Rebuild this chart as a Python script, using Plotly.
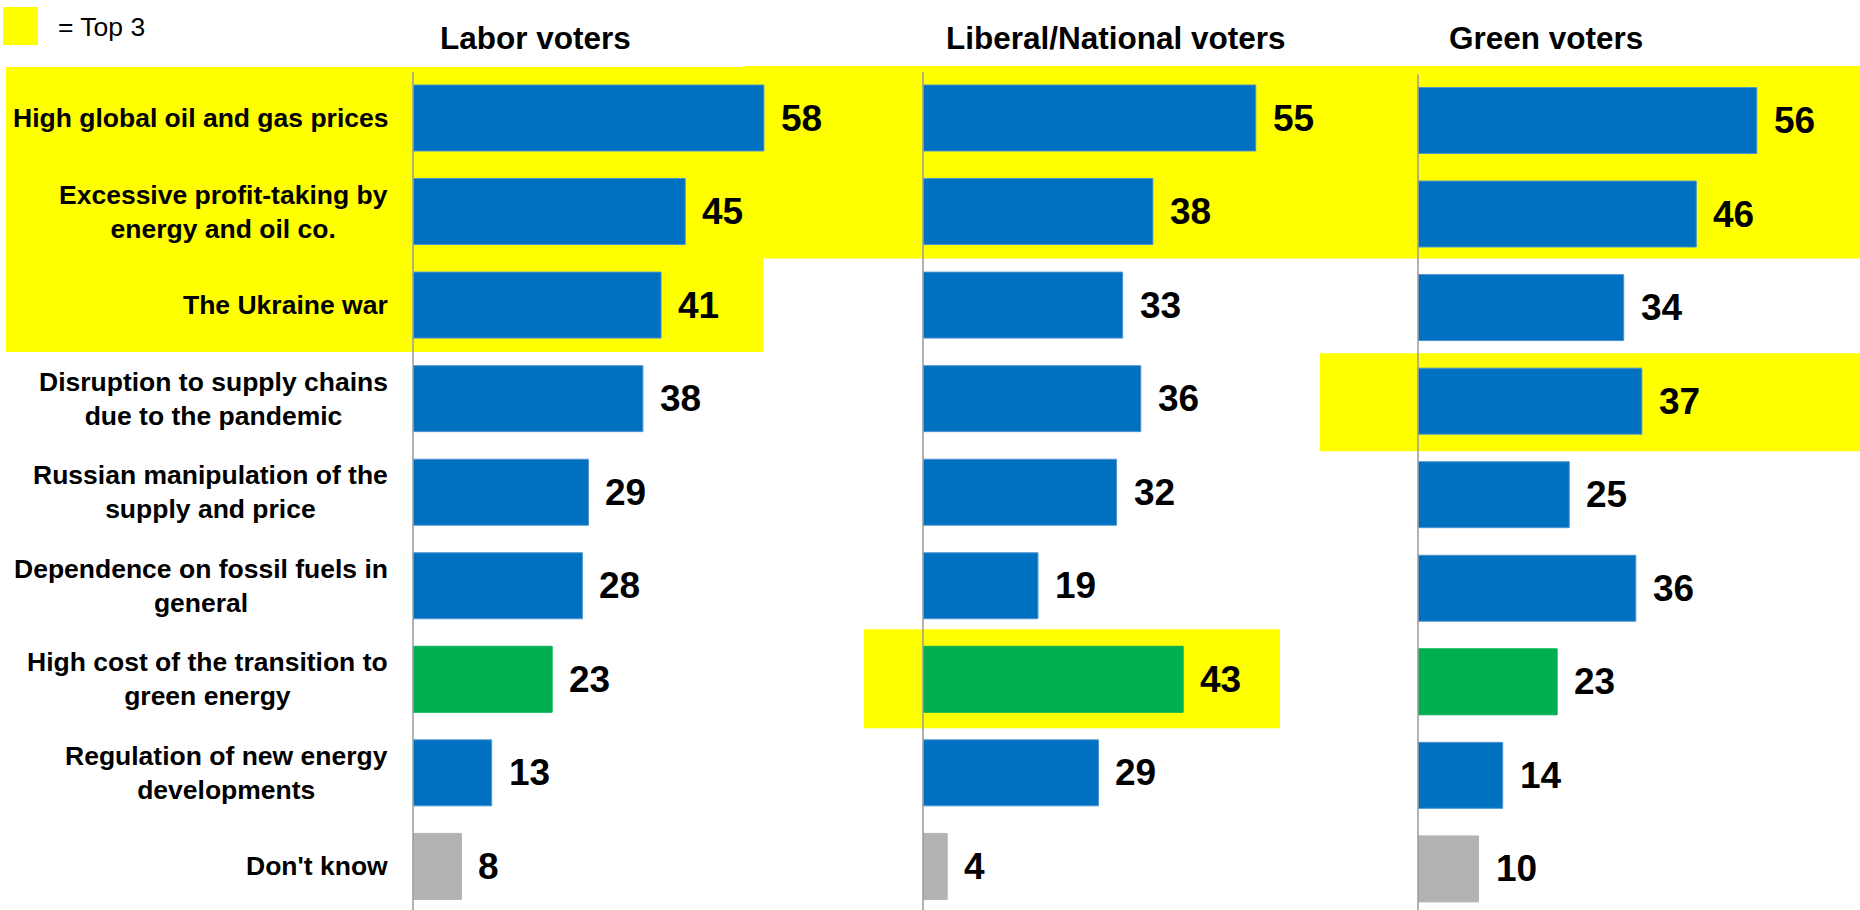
import plotly.graph_objects as go

# Survey responses: share of each voter group naming each cause (%)
categories = [
    "High global oil and gas prices",
    "Excessive profit-taking by<br>energy and oil co.",
    "The Ukraine war",
    "Disruption to supply chains<br>due to the pandemic",
    "Russian manipulation of the<br>supply and price",
    "Dependence on fossil fuels in<br>general",
    "High cost of the transition to<br>green energy",
    "Regulation of new energy<br>developments",
    "Don't know",
]
labor = [58, 45, 41, 38, 29, 28, 23, 13, 8]
liberal = [55, 38, 33, 36, 32, 19, 43, 29, 4]
green = [56, 46, 34, 37, 25, 36, 23, 14, 10]
groups = ["Labor voters", "Liberal/National voters", "Green voters"]

W, H = 1860, 910
BLUE, GREEN, GREY, YELLOW = "#0070C0", "#00B050", "#B2B2B2", "#FFFF00"
FONT = "Liberation Sans, Arial, sans-serif"

bar_colors = [BLUE] * len(categories)
bar_colors[6] = GREEN
bar_colors[8] = GREY
line_colors = ["#4D94D0" if c == BLUE else c for c in bar_colors]

rows = list(range(len(categories)))
PX_PER_UNIT = 6.05
PANEL_W = 420
ROW_PITCH = 93.55


def px_x(p):
    return p / W


def px_y(p):
    return 1 - p / H


# panel layout: left edge of each value axis and centre of first row (pixels)
panels = [
    dict(vals=labor, left=413, row0=118.0, title_x=535),
    dict(vals=liberal, left=923, row0=118.0, title_x=1116),
    dict(vals=green, left=1418, row0=120.5, title_x=1546),
]

fig = go.Figure()
shapes = []
annotations = []


def row_px(panel, r):
    return panel["row0"] + ROW_PITCH * r


# yellow "top 3" highlight blocks
def block(x0, x1, y0, y1):
    shapes.append(dict(type="rect", xref="paper", yref="paper",
                       x0=px_x(x0), x1=px_x(x1), y0=px_y(y1), y1=px_y(y0),
                       fillcolor=YELLOW, line=dict(width=0), layer="below"))


P0, P1, P2 = panels
block(6, 763, row_px(P0, 0) - 51, row_px(P0, 2) + 47)
block(743, W, row_px(P1, 0) - 52, row_px(P1, 1) + 47)
block(1320, W, row_px(P2, 3) - 48, row_px(P2, 3) + 50)
block(864, 1280, row_px(P1, 6) - 50, row_px(P1, 6) + 49)

for i, p in enumerate(panels):
    n = "" if i == 0 else str(i + 1)
    xa, ya = "x" + n, "y" + n
    fig.add_trace(go.Bar(
        x=p["vals"], y=rows, orientation="h",
        marker=dict(color=bar_colors, line=dict(color=line_colors, width=1)),
        width=0.705, xaxis=xa, yaxis=ya, hoverinfo="skip", showlegend=False,
    ))
    rng = PANEL_W / PX_PER_UNIT
    fig.update_layout(**{
        ("xaxis" + n): dict(domain=[px_x(p["left"]), px_x(p["left"] + PANEL_W)],
                            range=[0, rng], visible=False, fixedrange=True),
        ("yaxis" + n): dict(domain=[0, 1],
                            range=[(H - p["row0"]) / ROW_PITCH, -p["row0"] / ROW_PITCH],
                            visible=False, fixedrange=True, anchor=xa),
    })
    fig.layout["xaxis" + n].anchor = ya
    # vertical baseline of the panel
    shapes.append(dict(type="line", xref="paper", yref="paper",
                       x0=px_x(p["left"]), x1=px_x(p["left"]),
                       y0=px_y(row_px(p, 0) - 46), y1=0,
                       line=dict(color="#9A9A9A", width=1.5)))
    # value labels
    for r, v in zip(rows, p["vals"]):
        annotations.append(dict(
            x=v, y=r, xref=xa, yref=ya, text="<b>%d</b>" % v, showarrow=False,
            xanchor="left", yanchor="middle", xshift=15,
            font=dict(family=FONT, size=37, color="#000000")))
    # panel heading
    annotations.append(dict(
        x=px_x(p["title_x"]), y=px_y(38), xref="paper", yref="paper",
        text="<b>%s</b>" % groups[i], showarrow=False,
        xanchor="center", yanchor="middle",
        font=dict(family=FONT, size=31.5, color="#000000")))

# category labels
for r, c in zip(rows, categories):
    annotations.append(dict(
        x=px_x(390), y=r, xref="paper", yref="y", text="<b>%s</b>" % c,
        showarrow=False, xanchor="right", yanchor="middle", align="center",
        font=dict(family=FONT, size=26.5, color="#000000")))

# key
shapes.append(dict(type="rect", xref="paper", yref="paper",
                   x0=px_x(3), x1=px_x(38), y0=px_y(45), y1=px_y(7),
                   fillcolor=YELLOW, line=dict(width=0)))
annotations.append(dict(
    x=px_x(56), y=px_y(27), xref="paper", yref="paper", text="= Top 3",
    showarrow=False, xanchor="left", yanchor="middle",
    font=dict(family=FONT, size=26.5, color="#000000")))

fig.update_layout(
    width=W, height=H, margin=dict(l=0, r=0, t=0, b=0),
    paper_bgcolor="white", plot_bgcolor="rgba(0,0,0,0)",
    shapes=shapes, annotations=annotations, bargap=0.3,
    font=dict(family=FONT),
)

fig.write_html("out.html", config=dict(displayModeBar=False))
